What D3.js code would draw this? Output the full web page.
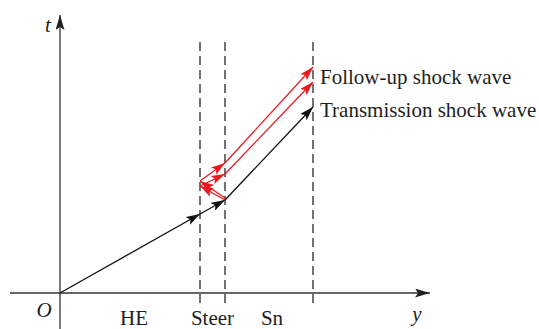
<!DOCTYPE html>
<html>
<head>
<meta charset="utf-8">
<script src="https://cdn.jsdelivr.net/npm/d3@7"></script>
<style>
  body { margin: 0; background: #fff; }
  text { font-family: "Liberation Serif", "Times New Roman", serif; fill: #1e1e1e; }
</style>
</head>
<body>
<svg width="539" height="329"></svg>
<script>
// interfaces along y (HE | Steer | Sn)
var interfaces = [14, 16.5, 25.3];
var layerNames = ["HE", "Steer", "Sn"];
var layerMid = [7.4, 15.25, 21.2];

// transmission shock (black), each leg drawn as its own arrow
var blackPts = [[0, 0], [14, 7.9], [16.5, 9.3], [25.3, 18.6]];
// reflected waves going back to HE/Steer
var reflectLegs = [
  [[16.5, 9.3], [14, 10.7]],
  [[16.5, 9.5], [14, 11.2]]
];
// follow-up shocks
var redUpper = [[14, 11.2], [16.5, 13.0], [25.3, 22.6]];
var redLower = [[14, 10.7], [16.5, 11.9], [25.3, 21.1]];

var waveLabels = ["Follow-up shock wave", "Transmission shock wave"];

var xs = d3.scaleLinear().domain([0, 37]).range([60, 430]);
var ts = d3.scaleLinear().domain([0, 28]).range([293, 13]);

var svg = d3.select("svg");
var defs = svg.append("defs");

function marker(id, color, len, wid) {
  defs.append("marker")
    .attr("id", id)
    .attr("markerUnits", "userSpaceOnUse")
    .attr("viewBox", "0 0 " + len + " " + wid)
    .attr("refX", len).attr("refY", wid / 2)
    .attr("markerWidth", len).attr("markerHeight", wid)
    .attr("orient", "auto")
    .append("path")
    .attr("d", "M0,0L" + len + "," + (wid / 2) + "L0," + wid + "L3," + (wid / 2) + "Z")
    .attr("fill", color);
}
marker("ax", "#222", 15, 9);
marker("blk", "#111", 14, 9);
marker("red", "#e61a1f", 14, 9);

// axes
svg.append("line")
  .attr("x1", xs(0)).attr("x2", xs(0))
  .attr("y1", 329).attr("y2", ts(27.8))
  .attr("stroke", "#333").attr("stroke-width", 1.3)
  .attr("marker-end", "url(#ax)");
svg.append("line")
  .attr("x1", 10).attr("x2", xs(37))
  .attr("y1", ts(0)).attr("y2", ts(0))
  .attr("stroke", "#333").attr("stroke-width", 1.3)
  .attr("marker-end", "url(#ax)");

// dashed interfaces
svg.selectAll(".iface").data(interfaces).enter().append("line")
  .attr("class", "iface")
  .attr("x1", function(d){ return xs(d); })
  .attr("x2", function(d){ return xs(d); })
  .attr("y1", ts(25.1)).attr("y2", ts(-1))
  .attr("stroke", "#444").attr("stroke-width", 1.5)
  .attr("stroke-dasharray", "9,5");

function legs(pts) {
  var out = [];
  for (var i = 0; i < pts.length - 1; i++) out.push([pts[i], pts[i + 1]]);
  return out;
}

function drawLegs(list, color, mk) {
  svg.append("g").selectAll("line").data(list).enter().append("line")
    .attr("x1", function(d){ return xs(d[0][0]); })
    .attr("y1", function(d){ return ts(d[0][1]); })
    .attr("x2", function(d){ return xs(d[1][0]); })
    .attr("y2", function(d){ return ts(d[1][1]); })
    .attr("stroke", color).attr("stroke-width", 1.3)
    .attr("marker-end", "url(#" + mk + ")");
}

drawLegs(legs(blackPts), "#111", "blk");
drawLegs(reflectLegs, "#e61a1f", "red");
drawLegs(legs(redUpper), "#e61a1f", "red");
drawLegs(legs(redLower), "#e61a1f", "red");

// labels
svg.append("text").attr("x", 48).attr("y", 32)
  .attr("text-anchor", "middle").style("font-style", "italic")
  .style("font-size", "21px").text("t");
svg.append("text").attr("x", 44).attr("y", 317)
  .attr("text-anchor", "middle").style("font-style", "italic")
  .style("font-size", "21px").text("O");
svg.append("text").attr("x", 417).attr("y", 321)
  .attr("text-anchor", "middle").style("font-style", "italic")
  .style("font-size", "21px").text("y");

svg.selectAll(".layer").data(layerNames).enter().append("text")
  .attr("class", "layer")
  .attr("x", function(d, i){ return xs(layerMid[i]); })
  .attr("y", 325)
  .attr("text-anchor", "middle")
  .style("font-size", "21px")
  .text(function(d){ return d; });

svg.selectAll(".wave").data(waveLabels).enter().append("text")
  .attr("class", "wave")
  .attr("x", 320)
  .attr("y", function(d, i){ return 84 + i * 33; })
  .style("font-size", "21px")
  .text(function(d){ return d; });
</script>
</body>
</html>
